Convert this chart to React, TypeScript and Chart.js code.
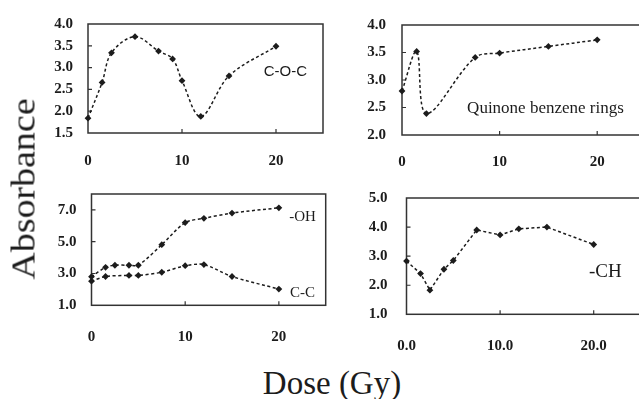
import React, { useEffect, useRef } from "react";
import { Chart, registerables } from "chart.js";

Chart.register(...registerables);

// Dose levels (Gy) and absorbance readings for each band
const cocDose = [0, 1.5, 2.5, 5, 7.5, 9, 10, 12, 15, 20];
const cocAbs = [1.84, 2.66, 3.34, 3.71, 3.38, 3.2, 2.7, 1.88, 2.81, 3.49];

const quinoneDose = [0, 1.5, 2.5, 7.5, 10, 15, 20];
const quinoneAbs = [2.8, 3.52, 2.39, 3.41, 3.49, 3.61, 3.73];

const ohDose = [0, 1.5, 2.5, 4, 5, 7.5, 10, 12, 15, 20];
const ohAbs = [2.8, 3.39, 3.52, 3.52, 3.52, 4.81, 6.2, 6.47, 6.8, 7.13];

const ccDose = [0, 1.5, 4, 5, 7.5, 10, 12, 15, 20];
const ccAbs = [2.52, 2.81, 2.88, 2.88, 3.08, 3.49, 3.56, 2.81, 2.02];

const chDose = [0, 1.5, 2.5, 4, 5, 7.5, 10, 12, 15, 20];
const chAbs = [2.83, 2.4, 1.83, 2.55, 2.85, 3.9, 3.73, 3.94, 4.0, 3.4];

const doseTicks = [0, 10, 20];
const cocTicks = [1.5, 2.0, 2.5, 3.0, 3.5, 4.0];
const quinoneTicks = [2.0, 2.5, 3.0, 3.5, 4.0];
const ohCcTicks = [1, 3, 5, 7];
const chTicks = [1, 2, 3, 4, 5];

const INK = "#1c1c1c";
const TICK_FONT = { family: "'Liberation Serif', 'Times New Roman', serif", size: 15, weight: "bold" as const };

type Series = { dose: number[]; abs: number[] };
type Note = { text: string; x: number; y: number; font: string };
type PanelSpec = {
  left: number;
  top: number;
  width: number;
  height: number;
  axisW: number;
  axisH: number;
  padTop: number;
  padRight: number;
  yMin: number;
  yMax: number;
  yTicks: number[];
  yLabelPad: number;
  xLabelPad: number;
  xFmt: (v: number) => string;
  tension: number;
  series: Series[];
  notes: Note[];
};

const panels: PanelSpec[] = [
  {
    left: 0, top: 0, width: 330, height: 180,
    axisW: 88, axisH: 47, padTop: 19, padRight: 7,
    yMin: 1.5, yMax: 4.0, yTicks: cocTicks, yLabelPad: 15, xLabelPad: 19,
    xFmt: (v) => String(v), tension: 0.35,
    series: [{ dose: cocDose, abs: cocAbs }],
    notes: [{ text: "C-O-C", x: 18.7, y: 2.9, font: "15px 'Liberation Sans', Arial, sans-serif" }],
  },
  {
    left: 322, top: 0, width: 330, height: 180,
    axisW: 80, axisH: 45, padTop: 24, padRight: 6,
    yMin: 2.0, yMax: 4.0, yTicks: quinoneTicks, yLabelPad: 16, xLabelPad: 18,
    xFmt: (v) => String(v), tension: 0.35,
    series: [{ dose: quinoneDose, abs: quinoneAbs }],
    notes: [{ text: "Quinone benzene rings", x: 6.67, y: 2.49, font: "17px 'Liberation Serif', 'Times New Roman', serif" }],
  },
  {
    left: 0, top: 170, width: 335, height: 180,
    axisW: 91.5, axisH: 44.7, padTop: 14.3, padRight: 9.3,
    yMin: 1, yMax: 8, yTicks: ohCcTicks, yLabelPad: 15, xLabelPad: 23,
    xFmt: (v) => String(v), tension: 0.3,
    series: [
      { dose: ohDose, abs: ohAbs },
      { dose: ccDose, abs: ccAbs },
    ],
    notes: [
      { text: "-OH", x: 21.1, y: 6.55, font: "15px 'Liberation Serif', 'Times New Roman', serif" },
      { text: "C-C", x: 21.2, y: 1.79, font: "15px 'Liberation Serif', 'Times New Roman', serif" },
    ],
  },
  {
    left: 322, top: 170, width: 330, height: 190,
    axisW: 84.5, axisH: 45.7, padTop: 23.3, padRight: 11.5,
    yMin: 1, yMax: 5, yTicks: chTicks, yLabelPad: 19, xLabelPad: 23,
    xFmt: (v) => v.toFixed(1), tension: 0,
    series: [{ dose: chDose, abs: chAbs }],
    notes: [{ text: "-CH", x: 19.5, y: 2.46, font: "19px 'Liberation Serif', 'Times New Roman', serif" }],
  },
];

function PanelChart({ spec }: { spec: PanelSpec }) {
  const ref = useRef<HTMLCanvasElement | null>(null);

  useEffect(() => {
    if (!ref.current) return;

    // Box around the plot area, inward tick marks, and the band names
    const framePlugin = {
      id: "frame",
      beforeDatasetsDraw(chart: any) {
        const { ctx, chartArea: a, scales } = chart;
        ctx.save();
        ctx.strokeStyle = "#333";
        ctx.lineWidth = 1.5;
        ctx.strokeRect(a.left, a.top, a.right - a.left, a.bottom - a.top);
        ctx.lineWidth = 1.2;
        ctx.beginPath();
        for (const v of doseTicks) {
          if (v === 0) continue;
          const px = scales.x.getPixelForValue(v);
          ctx.moveTo(px, a.bottom);
          ctx.lineTo(px, a.bottom - 4);
        }
        for (const v of spec.yTicks) {
          if (v === spec.yMin || v === spec.yMax) continue;
          const py = scales.y.getPixelForValue(v);
          ctx.moveTo(a.left, py);
          ctx.lineTo(a.left + 4, py);
        }
        ctx.stroke();
        ctx.restore();
      },
      afterDatasetsDraw(chart: any) {
        const { ctx, scales } = chart;
        ctx.save();
        ctx.fillStyle = INK;
        ctx.textAlign = "left";
        ctx.textBaseline = "middle";
        for (const n of spec.notes) {
          ctx.font = n.font;
          ctx.fillText(n.text, scales.x.getPixelForValue(n.x), scales.y.getPixelForValue(n.y));
        }
        ctx.restore();
      },
    };

    const chart = new Chart(ref.current, {
      type: "line",
      data: {
        datasets: spec.series.map((s) => ({
          data: s.dose.map((d, i) => ({ x: d, y: s.abs[i] })),
          borderColor: INK,
          backgroundColor: INK,
          borderWidth: 1.5,
          borderDash: [3, 2.5],
          tension: spec.tension,
          pointStyle: "rectRot",
          pointRadius: 3.4,
          pointBorderWidth: 0,
          pointBackgroundColor: INK,
          clip: false as any,
        })),
      },
      options: {
        responsive: false,
        animation: false,
        events: [],
        layout: { padding: { top: spec.padTop, right: spec.padRight, left: 0, bottom: 0 } },
        plugins: { legend: { display: false }, tooltip: { enabled: false } },
        scales: {
          x: {
            type: "linear",
            min: 0,
            max: 25,
            grid: { display: false, drawTicks: false },
            border: { display: false },
            afterBuildTicks: (scale: any) => {
              scale.ticks = doseTicks.map((v) => ({ value: v }));
            },
            afterFit: (scale: any) => {
              scale.height = spec.axisH;
            },
            ticks: {
              color: INK,
              font: TICK_FONT,
              padding: spec.xLabelPad,
              maxRotation: 0,
              autoSkip: false,
              callback: (v: any) => spec.xFmt(Number(v)),
            },
          },
          y: {
            type: "linear",
            min: spec.yMin,
            max: spec.yMax,
            grid: { display: false, drawTicks: false },
            border: { display: false },
            afterBuildTicks: (scale: any) => {
              scale.ticks = spec.yTicks.map((v) => ({ value: v }));
            },
            afterFit: (scale: any) => {
              scale.width = spec.axisW;
            },
            ticks: {
              color: INK,
              font: TICK_FONT,
              padding: spec.yLabelPad,
              autoSkip: false,
              callback: (v: any) => Number(v).toFixed(1),
            },
          },
        },
      },
      plugins: [framePlugin],
    });

    return () => chart.destroy();
  }, [spec]);

  return (
    <canvas
      ref={ref}
      width={spec.width}
      height={spec.height}
      style={{
        position: "absolute",
        left: spec.left,
        top: spec.top,
        width: spec.width,
        height: spec.height,
      }}
    />
  );
}

export default function App() {
  return (
    <div
      style={{
        position: "fixed",
        left: 0,
        top: 0,
        width: 639,
        height: 399,
        overflow: "hidden",
        background: "#fff",
      }}
    >
      {panels.map((p, i) => (
        <PanelChart key={i} spec={p} />
      ))}
      <div
        style={{
          position: "absolute",
          left: 24,
          top: 189,
          transform: "translate(-50%, -50%) rotate(-90deg) scaleX(1.15)",
          fontFamily: "'Liberation Serif', 'Times New Roman', serif",
          fontSize: 33,
          lineHeight: 1,
          color: INK,
          whiteSpace: "nowrap",
        }}
      >
        Absorbance
      </div>
      <div
        style={{
          position: "absolute",
          left: 332,
          top: 383,
          transform: "translate(-50%, -50%)",
          fontFamily: "'Liberation Serif', 'Times New Roman', serif",
          fontSize: 33,
          lineHeight: 1,
          color: INK,
          whiteSpace: "nowrap",
        }}
      >
        Dose (Gy)
      </div>
    </div>
  );
}
